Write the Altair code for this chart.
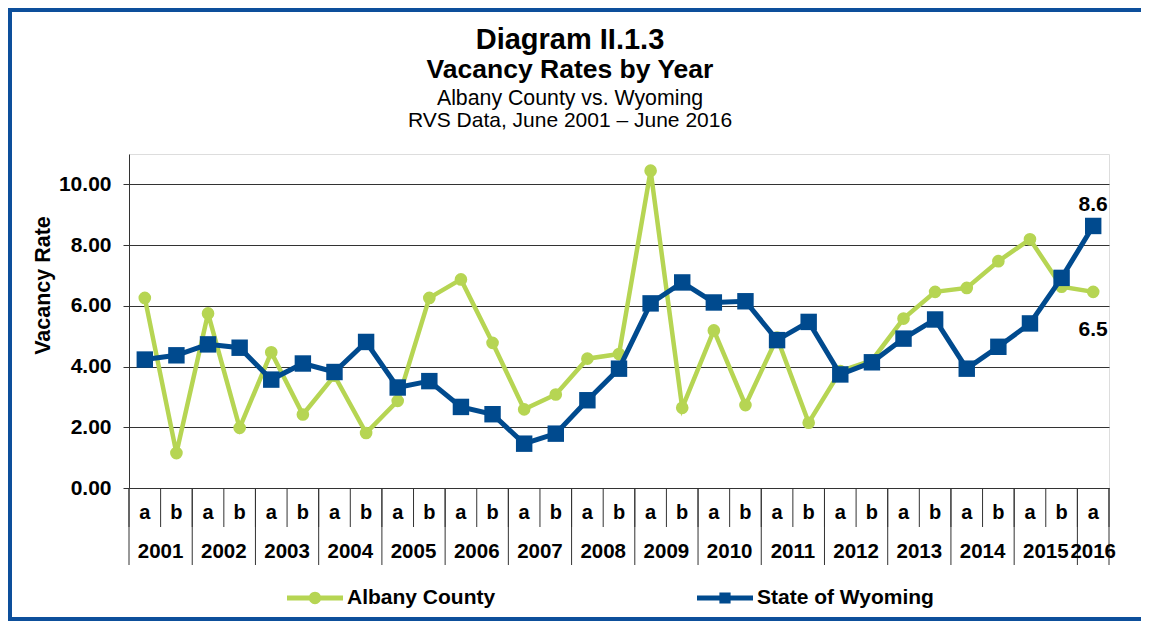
import altair as alt
import pandas as pd

# ---------------- data ----------------
years = [str(y) for y in range(2001, 2017)]
halves = ["a", "b"] * 15 + ["a"]
period_year = [y for y in years[:-1] for _ in (0, 1)] + ["2016"]
albany = [6.26, 1.15, 5.75, 1.98, 4.47, 2.42, 3.70, 1.81, 2.87, 6.26,
          6.87, 4.78, 2.59, 3.08, 4.26, 4.41, 10.45, 2.64, 5.19, 2.73,
          4.95, 2.15, 3.85, 4.20, 5.58, 6.46, 6.59, 7.47, 8.19, 6.63, 6.46]
wyoming = [4.23, 4.37, 4.73, 4.62, 3.57, 4.10, 3.82, 4.81, 3.31, 3.52,
           2.67, 2.43, 1.46, 1.79, 2.89, 3.93, 6.08, 6.77, 6.11, 6.15,
           4.87, 5.47, 3.74, 4.14, 4.92, 5.55, 3.93, 4.65, 5.42, 6.92, 8.63]
series_names = ["Albany County", "State of Wyoming"]
title_lines = ["Diagram II.1.3", "Vacancy Rates by Year",
               "Albany County vs. Wyoming", "RVS Data, June 2001 \u2013 June 2016"]
y_ticks = [0, 2, 4, 6, 8, 10]

GREEN = "#B6D553"
BLUE = "#004A8E"
FRAME = "#0D4F9B"
FONT = "Liberation Sans"

n = len(halves)
df = pd.DataFrame({"idx": range(n), "half": halves, "year": period_year,
                   "Albany County": albany, "State of Wyoming": wyoming})
df["pos"] = df["idx"] + 0.5
long = df.melt(id_vars=["idx", "pos", "half", "year"], value_vars=series_names,
               var_name="series", value_name="value")

year_df = df.groupby("year", as_index=False).agg(start=("idx", "min"), end=("idx", "max"))
year_df["center"] = (year_df["start"] + year_df["end"] + 1) / 2
tick_df = pd.DataFrame({"b": list(range(n + 1))})
sep_df = pd.DataFrame({"b": sorted(set(year_df["start"].tolist() + [n]))})
one = pd.DataFrame({"k": [0]})

W, H = 980, 334
xs = alt.Scale(domain=[0, n], nice=False, zero=False)
ys = alt.Scale(domain=[0, 11], nice=False, zero=True)

yaxis = alt.Axis(values=y_ticks, format=".2f", grid=True, gridColor="#333333",
                 gridWidth=1, domainColor="#333333", tickColor="#333333", tickSize=6,
                 labelPadding=12, labelFont=FONT, labelFontSize=21, labelFontWeight="bold",
                 labelColor="black", title="Vacancy Rate", titleFont=FONT, titleFontSize=21.5,
                 titleFontWeight="bold", titleColor="black", titleX=-86, titleY=131,
                 titleAngle=270, titleAlign="center", titleBaseline="middle")
X = alt.X("pos:Q", scale=xs, axis=None)
Y = alt.Y("value:Q", scale=ys, axis=yaxis)

# ---------------- layers ----------------
frame_left = alt.Chart(one).mark_rule(color=FRAME, strokeWidth=4).encode(
    x=alt.value(-119), y=alt.value(-146), y2=alt.value(467))
frame_top = alt.Chart(one).mark_rule(color=FRAME, strokeWidth=4).encode(
    x=alt.value(-121), x2=alt.value(1012), y=alt.value(-144))
frame_bottom = alt.Chart(one).mark_rule(color=FRAME, strokeWidth=4).encode(
    x=alt.value(-121), x2=alt.value(1012), y=alt.value(465))

ticks = alt.Chart(tick_df).mark_rule(color="#333333", strokeWidth=1).encode(
    x=alt.X("b:Q", scale=xs, axis=None), y=alt.value(H), y2=alt.value(H + 39))
seps = alt.Chart(sep_df).mark_rule(color="#333333", strokeWidth=1).encode(
    x=alt.X("b:Q", scale=xs, axis=None), y=alt.value(H), y2=alt.value(H + 77))

half_text = alt.Chart(df).mark_text(font=FONT, fontSize=20, fontWeight="bold", color="black",
                                    baseline="middle").encode(
    x=X, y=alt.value(H + 25), text="half:N")
year_text = alt.Chart(year_df).mark_text(font=FONT, fontSize=20.5, fontWeight="bold", color="black",
                                         baseline="middle").encode(
    x=alt.X("center:Q", scale=xs, axis=None), y=alt.value(H + 64), text="year:N")

alb = alt.Chart(long).transform_filter(alt.datum.series == "Albany County").mark_line(
    color=GREEN, strokeWidth=4.5,
    point=alt.OverlayMarkDef(filled=True, shape="circle", size=160, color=GREEN, opacity=1)
).encode(x=X, y=Y)
wyo = alt.Chart(long).transform_filter(alt.datum.series == "State of Wyoming").mark_line(
    color=BLUE, strokeWidth=5,
    point=alt.OverlayMarkDef(filled=True, shape="square", size=270, color=BLUE, opacity=1)
).encode(x=X, y=Y)

alb_lab = alt.Chart(long).transform_filter(
    (alt.datum.series == "Albany County") & (alt.datum.idx == n - 1)).mark_text(
    font=FONT, fontSize=21, fontWeight="bold", color="black", dy=38).encode(
    x=X, y=Y, text=alt.Text("value:Q", format=".1f"))
wyo_lab = alt.Chart(long).transform_filter(
    (alt.datum.series == "State of Wyoming") & (alt.datum.idx == n - 1)).mark_text(
    font=FONT, fontSize=21, fontWeight="bold", color="black", dy=-21).encode(
    x=X, y=Y, text=alt.Text("value:Q", format=".1f"))

circle_path = ("M-1,-0.09L1,-0.09L1,0.09L-1,0.09Z "
               "M-0.22,0A0.22,0.22 0 1 1 0.22,0A0.22,0.22 0 1 1 -0.22,0Z")
square_path = ("M-1,-0.09L1,-0.09L1,0.09L-1,0.09Z "
               "M-0.2,-0.2L0.2,-0.2L0.2,0.2L-0.2,0.2Z")
leg = alt.Legend(title=None, orient="none", legendX=158, legendY=416, direction="horizontal",
                 symbolSize=3136, symbolStrokeWidth=0, symbolOpacity=1, labelOffset=4,
                 columnPadding=201, padding=0, labelFont=FONT, labelFontSize=21,
                 labelFontWeight="bold", labelColor="black", labelLimit=500)
legend_layer = alt.Chart(long).mark_point(filled=True, opacity=0).encode(
    x=X, y=Y,
    color=alt.Color("series:N", scale=alt.Scale(domain=series_names, range=[GREEN, BLUE]), legend=leg),
    shape=alt.Shape("series:N", scale=alt.Scale(domain=series_names, range=[circle_path, square_path]),
                    legend=leg))

def title_line(text, size, weight, ybase):
    return alt.Chart(pd.DataFrame({"t": [text]})).mark_text(
        font=FONT, fontSize=size, fontWeight=weight, color="black", baseline="alphabetic",
        align="center").encode(x=alt.value(441), y=alt.value(ybase), text="t:N")

titles = [
    title_line(title_lines[0], 29, "bold", -105),
    title_line(title_lines[1], 26.5, "bold", -76),
    title_line(title_lines[2], 21.3, "normal", -49),
    title_line(title_lines[3], 21, "normal", -27),
]

chart = alt.layer(
    frame_left, frame_top, frame_bottom, ticks, seps, half_text, year_text,
    alb, wyo, alb_lab, wyo_lab, legend_layer, *titles
).properties(
    width=W, height=H,
    padding={"left": 121, "top": 146, "right": 32, "bottom": 133},
    autosize=alt.AutoSizeParams(type="none"),
).configure_view(fill="#FFFFE0", stroke="transparent").configure(font=FONT)

chart.save("out.html", embed_options={"renderer": "svg", "actions": False})
